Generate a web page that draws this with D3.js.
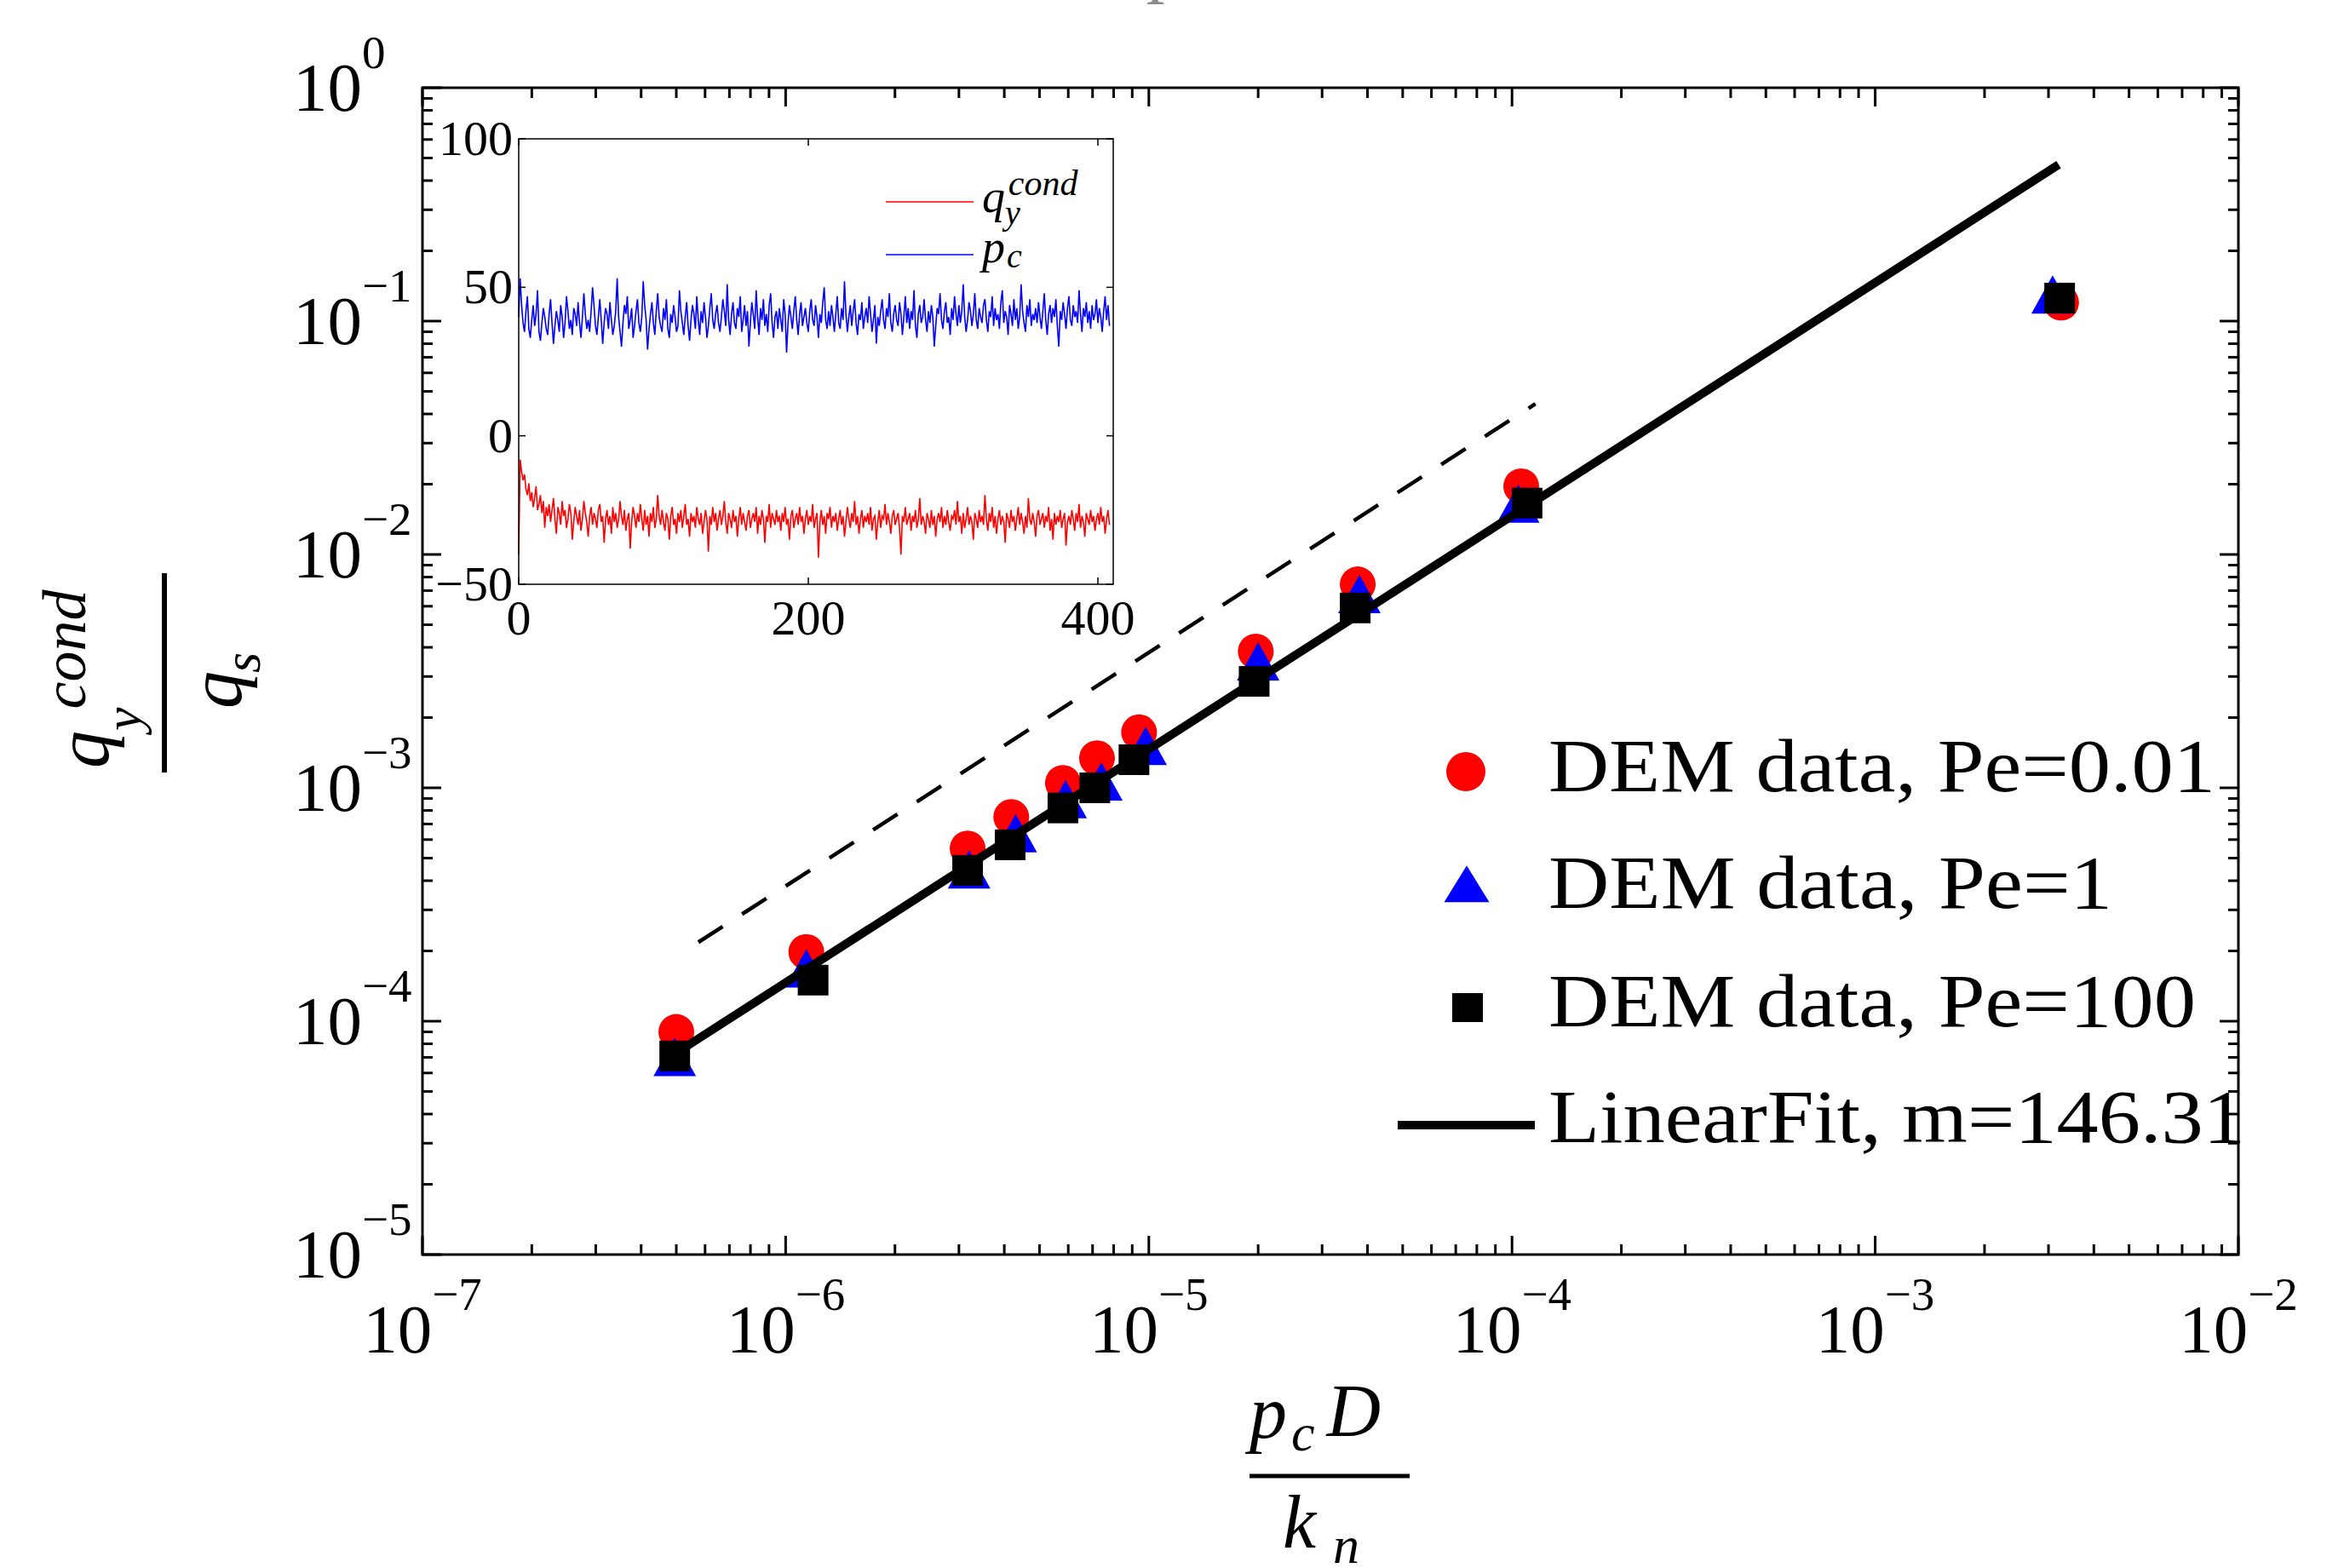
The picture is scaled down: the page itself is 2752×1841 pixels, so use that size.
<!DOCTYPE html>
<html lang="en">
<head>
<meta charset="UTF-8">
<title>Conductive flux vs contact pressure</title>
<style>
    body { margin: 0; background: #fff; }
    svg { display: block; background: #fff; }
    text { font-family: "Liberation Serif", "Times New Roman", serif; fill: #000; }
    .math { font-style: italic; }
    .frame { fill: none; stroke: #000; stroke-width: 3px; }
    .tick { stroke: #000; stroke-width: 3px; }
    .itick { stroke: #000; stroke-width: 1.5px; }
</style>
</head>
<body>
<svg width="2752" height="1841"></svg>
<script src="https://d3js.org/d3.v7.min.js"></script>
<script>
    // ---- main plot data ----
    let seriesNames = ["DEM data, Pe=0.01", "DEM data, Pe=1", "DEM data, Pe=100"];

    let pe001X = [5.0e-7, 1.14e-6, 3.17e-6, 4.18e-6, 5.8e-6, 7.2e-6, 9.4e-6, 1.97e-5, 3.76e-5, 1.06e-4, 3.25e-3];
    let pe001Y = [9.0e-5, 1.98e-4, 5.5e-4, 7.5e-4, 1.05e-3, 1.34e-3, 1.73e-3, 3.84e-3, 7.45e-3, 1.96e-2, 0.120];

    let pe1X = [4.95e-7, 1.14e-6, 3.2e-6, 4.3e-6, 5.9e-6, 7.4e-6, 9.8e-6, 2.0e-5, 3.8e-5, 1.04e-4, 3.08e-3];
    let pe1Y = [6.6e-5, 1.58e-4, 4.2e-4, 6.0e-4, 8.4e-4, 1.0e-3, 1.42e-3, 3.27e-3, 6.35e-3, 1.55e-2, 0.122];

    let pe100X = [4.95e-7, 1.19e-6, 3.17e-6, 4.15e-6, 5.8e-6, 7.1e-6, 9.1e-6, 1.95e-5, 3.7e-5, 1.10e-4, 3.22e-3];
    let pe100Y = [7.1e-5, 1.50e-4, 4.43e-4, 5.7e-4, 8.2e-4, 1.0e-3, 1.32e-3, 2.86e-3, 5.9e-3, 1.66e-2, 0.1255];

    let fitLabel = "LinearFit, m=146.31";
    let fitSlope = 146.31;
    let fitRangeX = [4.95e-7, 3.2e-3];

    // dashed guide line, slope 1 in log-log
    let guideX = [5.75e-7, 1.16e-4];
    let guideY = [2.18e-4, 4.42e-2];

    // ---- inset data: time series ----
    let sampleStep = 1;
    let pcSeries = [
        40, 53, 44, 38, 35, 42, 47, 36, 33, 39, 44, 37, 41, 49, 35, 32, 38, 43, 40, 36,
        34, 41, 46, 38, 31, 37, 42, 39, 35, 44, 40, 33, 38, 47, 42, 36, 39, 34, 43, 41,
        37, 45, 38, 33, 40, 48, 41, 36, 39, 35, 42, 50, 44, 37, 34, 40, 46, 39, 31, 38,
        43, 41, 36, 45, 39, 34, 37, 42, 53, 40, 35, 30, 38, 44, 41, 47, 36, 39, 43, 33,
        37, 42, 46, 38, 35, 40, 52, 44, 39, 29, 36, 41, 45, 38, 34, 42, 48, 40, 37, 35,
        43, 39, 46, 36, 33, 41, 38, 44, 40, 35, 37, 49, 42, 38, 34, 40, 45, 37, 32, 39,
        44, 41, 36, 47, 39, 34, 42, 38, 45, 40, 33, 37, 43, 48, 39, 36, 41, 44, 38, 35,
        40, 46, 42, 37, 51, 39, 34, 41, 45, 38, 36, 43, 40, 47, 35, 39, 44, 37, 42, 30,
        38, 45, 41, 36, 49, 40, 34, 43, 39, 46, 37, 41, 35, 44, 48, 38, 33, 40, 42, 36,
        43, 39, 35, 46, 41, 28, 38, 44, 40, 36, 42, 47, 39, 34, 41, 45, 37, 40, 43, 38,
        35, 42, 46, 39, 37, 44, 40, 33, 41, 38, 45, 50, 39, 36, 42, 37, 44, 40, 35, 41,
        47, 38, 36, 43, 39, 52, 41, 35, 40, 44, 37, 42, 46, 38, 34, 41, 39, 45, 36, 40,
        43, 38, 47, 41, 35, 39, 44, 31, 40, 37, 42, 46, 39, 36, 43, 40, 48, 38, 35, 41,
        44, 39, 37, 45, 41, 34, 40, 47, 38, 43, 36, 42, 39, 49, 37, 33, 41, 44, 38, 40,
        46, 39, 35, 42, 38, 44, 40, 30, 37, 43, 41, 48, 39, 36, 42, 45, 38, 40, 34, 43,
        39, 47, 41, 37, 44, 38, 42, 51, 40, 35, 39, 45, 42, 37, 41, 48, 39, 36, 43, 40,
        38, 44, 46, 39, 35, 42, 40, 47, 37, 43, 39, 41, 36, 45, 49, 38, 42, 40, 34, 44,
        41, 37, 46, 39, 43, 36, 40, 51, 42, 38, 35, 44, 40, 46, 37, 41, 39, 43, 38, 45,
        40, 36, 42, 48, 39, 34, 41, 44, 38, 43, 40, 46, 37, 30, 42, 39, 45, 41, 36, 43,
        47, 39, 37, 44, 40, 42, 38, 49, 41, 35, 43, 40, 45, 38, 42, 36, 44, 39, 41, 46,
        38, 43, 40, 35, 42, 47, 39, 44, 37
    ];
    let qSeries = [
        -40, -8, -12, -15, -13, -18, -20, -16, -22, -19, -24, -21, -17, -25, -23, -20, -26, -22, -31, -24,
        -27, -23, -29, -25, -21, -28, -33, -24, -26, -30, -22, -27, -25, -31, -28, -23, -26, -35, -29, -24,
        -27, -30, -25, -32, -28, -22, -26, -29, -34, -27, -24, -30, -26, -28, -31, -25, -23, -29, -27, -36,
        -28, -25, -30, -27, -33, -24, -29, -26, -31, -28, -22, -27, -30, -25, -32, -28, -26, -38, -29, -24,
        -27, -31, -26, -29, -23, -28, -32, -25, -30, -27, -34, -26, -29, -24, -31, -28, -20, -27, -30, -25,
        -29, -32, -26, -28, -35, -27, -24, -30, -28, -33, -26, -29, -25, -31, -27, -23, -30, -28, -34, -26,
        -29, -27, -31, -24, -28, -30, -26, -33, -29, -25, -28, -39, -27, -30, -24, -29, -26, -32, -28, -25,
        -30, -27, -22, -29, -33, -26, -28, -31, -25, -29, -27, -34, -28, -24, -30, -26, -29, -32, -27, -25,
        -31, -28, -26, -29, -24, -33, -27, -30, -25, -28, -36, -27, -29, -23, -31, -26, -28, -30, -25, -29,
        -27, -32, -26, -29, -24, -30, -28, -35, -27, -25, -31, -28, -26, -30, -24, -29, -27, -33, -28, -25,
        -30, -27, -29, -23, -31, -28, -26, -41, -29, -25, -30, -27, -33, -26, -28, -24, -31, -27, -29, -26,
        -32, -28, -25, -30, -27, -34, -29, -24, -28, -31, -26, -29, -22, -30, -27, -33, -28, -25, -31, -27,
        -29, -26, -30, -24, -32, -28, -27, -35, -29, -25, -31, -27, -28, -23, -30, -26, -29, -33, -27, -25,
        -30, -28, -26, -31, -40, -27, -29, -24, -30, -28, -26, -32, -27, -29, -25, -31, -28, -21, -30, -27,
        -29, -33, -26, -28, -31, -25, -30, -27, -34, -28, -26, -29, -24, -31, -27, -30, -25, -29, -32, -27,
        -28, -25, -30, -22, -29, -27, -33, -26, -31, -28, -24, -30, -27, -29, -35, -26, -28, -31, -25, -29,
        -27, -30, -20, -28, -32, -26, -29, -24, -31, -27, -33, -28, -25, -30, -27, -29, -36, -26, -28, -31,
        -25, -29, -27, -32, -28, -24, -30, -26, -29, -33, -27, -31, -21, -28, -30, -26, -29, -34, -27, -25,
        -30, -28, -26, -31, -27, -29, -24, -32, -28, -35, -26, -30, -27, -29, -25, -31, -28, -26, -37, -29,
        -27, -30, -25, -28, -32, -26, -29, -23, -31, -27, -29, -34, -26, -28, -30, -25, -29, -27, -32, -28,
        -26, -30, -24, -29, -27, -33, -28, -25, -30
    ];
    let insetXTicks = [0, 200, 400];
    let insetYTicks = [-50, 0, 50, 100];

    // ---- layout ----
    let svg = d3.select("svg");
    let frame = {left: 496, right: 2628, top: 103, bottom: 1473};
    let inset = {left: 609, right: 1307, top: 163, bottom: 686};

    let x = d3.scaleLog().domain([1e-7, 1e-2]).range([frame.left, frame.right]);
    let y = d3.scaleLog().domain([1e-5, 1]).range([frame.bottom, frame.top]);

    function isDecade(v) {
        let e = Math.log10(v);
        return Math.abs(e - Math.round(e)) < 1e-9;
    }
    function expText(v) {
        let e = Math.round(Math.log10(v));
        return e < 0 ? "\u2212" + (-e) : String(e);
    }

    // faint clipped glyph at the very top of the page
    svg.append("text").attr("class", "math").attr("x", 1352).attr("y", -14)
        .attr("font-size", 88).style("fill", "#8c8c8c").text("p");

    // ---- ticks of the main frame ----
    let ticks = svg.append("g");
    x.ticks().forEach(function (v) {
        let len = isDecade(v) ? 22 : 12, px = x(v);
        ticks.append("line").attr("class", "tick")
            .attr("x1", px).attr("x2", px).attr("y1", frame.bottom).attr("y2", frame.bottom - len);
        ticks.append("line").attr("class", "tick")
            .attr("x1", px).attr("x2", px).attr("y1", frame.top).attr("y2", frame.top + len);
    });
    y.ticks().forEach(function (v) {
        let len = isDecade(v) ? 22 : 12, py = y(v);
        ticks.append("line").attr("class", "tick")
            .attr("x1", frame.left).attr("x2", frame.left + len).attr("y1", py).attr("y2", py);
        ticks.append("line").attr("class", "tick")
            .attr("x1", frame.right).attr("x2", frame.right - len).attr("y1", py).attr("y2", py);
    });

    // tick labels: 10 with a raised exponent
    x.ticks().filter(isDecade).forEach(function (v) {
        let t = svg.append("text").attr("x", x(v)).attr("y", 1588)
            .attr("text-anchor", "middle").attr("font-size", 81);
        t.append("tspan").text("10");
        t.append("tspan").attr("dy", -50).attr("font-size", 55).text(expText(v));
    });
    y.ticks().filter(isDecade).forEach(function (v) {
        let t = svg.append("text").attr("x", 344).attr("y", y(v) + 27).attr("font-size", 81);
        t.append("tspan").text("10");
        t.append("tspan").attr("dy", -50).attr("font-size", 55).text(expText(v));
    });

    // ---- guide line and fit ----
    let logLine = d3.line()
        .x(function (d) { return x(d[0]); })
        .y(function (d) { return y(d[1]); });

    svg.append("path")
        .datum(d3.zip(guideX, guideY))
        .attr("d", logLine)
        .attr("fill", "none").attr("stroke", "#000").attr("stroke-width", 4.5)
        .attr("stroke-dasharray", "34,27");

    // ---- markers ----
    let triW = 50, triH = 45;
    function triPath(w, h) {
        return "M0," + (-2 * h / 3) + "L" + (w / 2) + "," + (h / 3) + "L" + (-w / 2) + "," + (h / 3) + "Z";
    }

    svg.append("g").selectAll("circle")
        .data(d3.zip(pe001X, pe001Y))
        .enter().append("circle")
        .attr("cx", function (d) { return x(d[0]); })
        .attr("cy", function (d) { return y(d[1]); })
        .attr("r", 21)
        .attr("fill", "#ff0000");

    svg.append("g").selectAll("path")
        .data(d3.zip(pe1X, pe1Y))
        .enter().append("path")
        .attr("d", triPath(triW, triH))
        .attr("transform", function (d) { return "translate(" + x(d[0]) + "," + y(d[1]) + ")"; })
        .attr("fill", "#0000ff");

    svg.append("path")
        .datum(fitRangeX.map(function (v) { return [v, fitSlope * v]; }))
        .attr("d", logLine)
        .attr("fill", "none").attr("stroke", "#000").attr("stroke-width", 10);

    let sq = 36;
    svg.append("g").selectAll("rect")
        .data(d3.zip(pe100X, pe100Y))
        .enter().append("rect")
        .attr("x", function (d) { return x(d[0]) - sq / 2; })
        .attr("y", function (d) { return y(d[1]) - sq / 2; })
        .attr("width", sq).attr("height", sq)
        .attr("fill", "#000");

    svg.append("rect").attr("class", "frame")
        .attr("x", frame.left).attr("y", frame.top)
        .attr("width", frame.right - frame.left).attr("height", frame.bottom - frame.top);

    // ---- legend ----
    let legendRows = [929, 1066, 1205, 1341];
    let legendWidths = [783, 662, 760, 818];
    let legendTexts = seriesNames.concat([fitLabel]);
    let leg = svg.append("g");
    leg.append("circle").attr("cx", 1721).attr("cy", 906).attr("r", 23).attr("fill", "#ff0000");
    leg.append("path").attr("d", triPath(53, 43)).attr("transform", "translate(1722,1045)").attr("fill", "#0000ff");
    leg.append("rect").attr("x", 1705).attr("y", 1166).attr("width", 36).attr("height", 34).attr("fill", "#000");
    leg.append("line").attr("x1", 1641).attr("x2", 1802).attr("y1", 1321).attr("y2", 1321)
        .attr("stroke", "#000").attr("stroke-width", 10);
    legendTexts.forEach(function (s, i) {
        leg.append("text").attr("x", 1818).attr("y", legendRows[i])
            .attr("font-size", 88)
            .attr("textLength", legendWidths[i]).attr("lengthAdjust", "spacingAndGlyphs")
            .text(s);
    });

    // ---- axis titles (scripts as tspans so each term is one text) ----
    let xt = svg.append("g");
    let xNum = xt.append("text").attr("class", "math").attr("x", 1467).attr("y", 1688).attr("font-size", 88);
    xNum.append("tspan").text("p");
    xNum.append("tspan").attr("font-size", 62).attr("dx", 5).attr("dy", 15).text("c");
    xNum.append("tspan").attr("dx", 14).attr("dy", -17).text("D");
    xt.append("line").attr("x1", 1467).attr("x2", 1655).attr("y1", 1733).attr("y2", 1733)
        .attr("stroke", "#000").attr("stroke-width", 5);
    let xDen = xt.append("text").attr("class", "math").attr("x", 1506).attr("y", 1817).attr("font-size", 88);
    xDen.append("tspan").text("k");
    xDen.append("tspan").attr("font-size", 62).attr("dx", 20).attr("dy", 18).text("n");

    // y title is rotated: local x = -screenY, local y = screenX
    let yt = svg.append("g").attr("transform", "rotate(-90)");
    let yNum = yt.append("text").attr("class", "math").attr("x", -902).attr("y", 127).attr("font-size", 88);
    yNum.append("tspan").text("q");
    yNum.append("tspan").attr("font-size", 62).attr("dy", 38).text("y");
    yNum.append("tspan").attr("font-size", 72).attr("dx", -2).attr("dy", -65).text("cond");
    yt.append("line").attr("x1", -907).attr("x2", -673).attr("y1", 193).attr("y2", 193)
        .attr("stroke", "#000").attr("stroke-width", 6);
    let yDen = yt.append("text").attr("class", "math").attr("x", -832).attr("y", 283).attr("font-size", 88);
    yDen.append("tspan").text("q");
    yDen.append("tspan").attr("font-size", 62).attr("dx", -2).attr("dy", 22).text("s");

    // ---- inset ----
    let ix = d3.scaleLinear().domain([0, 410.6]).range([inset.left, inset.right]);
    let iy = d3.scaleLinear().domain([-50, 100]).range([inset.bottom, inset.top]);
    let ig = svg.append("g");
    ig.append("rect").attr("x", inset.left).attr("y", inset.top)
        .attr("width", inset.right - inset.left).attr("height", inset.bottom - inset.top)
        .attr("fill", "#fff");

    let tsLine = d3.line()
        .x(function (d, i) { return ix(i * sampleStep); })
        .y(function (d) { return iy(d); });
    ig.append("path").datum(pcSeries).attr("d", tsLine)
        .attr("fill", "none").attr("stroke", "#0000ff").attr("stroke-width", 1.6);
    ig.append("path").datum(qSeries).attr("d", tsLine)
        .attr("fill", "none").attr("stroke", "#ff0000").attr("stroke-width", 1.6);

    insetXTicks.forEach(function (v) {
        ig.append("line").attr("class", "itick").attr("x1", ix(v)).attr("x2", ix(v))
            .attr("y1", inset.bottom).attr("y2", inset.bottom - 8);
        ig.append("line").attr("class", "itick").attr("x1", ix(v)).attr("x2", ix(v))
            .attr("y1", inset.top).attr("y2", inset.top + 8);
        ig.append("text").attr("x", ix(v)).attr("y", inset.bottom + 59)
            .attr("text-anchor", "middle").attr("font-size", 58).text(v);
    });
    insetYTicks.forEach(function (v) {
        ig.append("line").attr("class", "itick").attr("x1", inset.left).attr("x2", inset.left + 8)
            .attr("y1", iy(v)).attr("y2", iy(v));
        ig.append("line").attr("class", "itick").attr("x1", inset.right).attr("x2", inset.right - 8)
            .attr("y1", iy(v)).attr("y2", iy(v));
        ig.append("text").attr("x", inset.left - 7).attr("y", iy(v) + 19)
            .attr("text-anchor", "end").attr("font-size", 58)
            .text(v < 0 ? "\u2212" + (-v) : v);
    });
    ig.append("rect").attr("x", inset.left).attr("y", inset.top)
        .attr("width", inset.right - inset.left).attr("height", inset.bottom - inset.top)
        .attr("fill", "none").attr("stroke", "#000").attr("stroke-width", 1.5);

    // inset legend
    ig.append("line").attr("x1", 1040).attr("x2", 1143).attr("y1", 237).attr("y2", 237)
        .attr("stroke", "#ff0000").attr("stroke-width", 1.5);
    ig.append("line").attr("x1", 1040).attr("x2", 1143).attr("y1", 299).attr("y2", 299)
        .attr("stroke", "#0000ff").attr("stroke-width", 1.5);
    let qLab = ig.append("text").attr("class", "math").attr("x", 1153).attr("y", 249).attr("font-size", 54);
    qLab.append("tspan").text("q");
    qLab.append("tspan").attr("font-size", 40).attr("dy", 14).text("y");
    qLab.append("tspan").attr("font-size", 42).attr("dx", -14).attr("dy", -34).text("cond");
    let pLab = ig.append("text").attr("class", "math").attr("x", 1153).attr("y", 308).attr("font-size", 54);
    pLab.append("tspan").text("p");
    pLab.append("tspan").attr("font-size", 40).attr("dx", 2).attr("dy", 6).text("c");
</script>
</body>
</html>
